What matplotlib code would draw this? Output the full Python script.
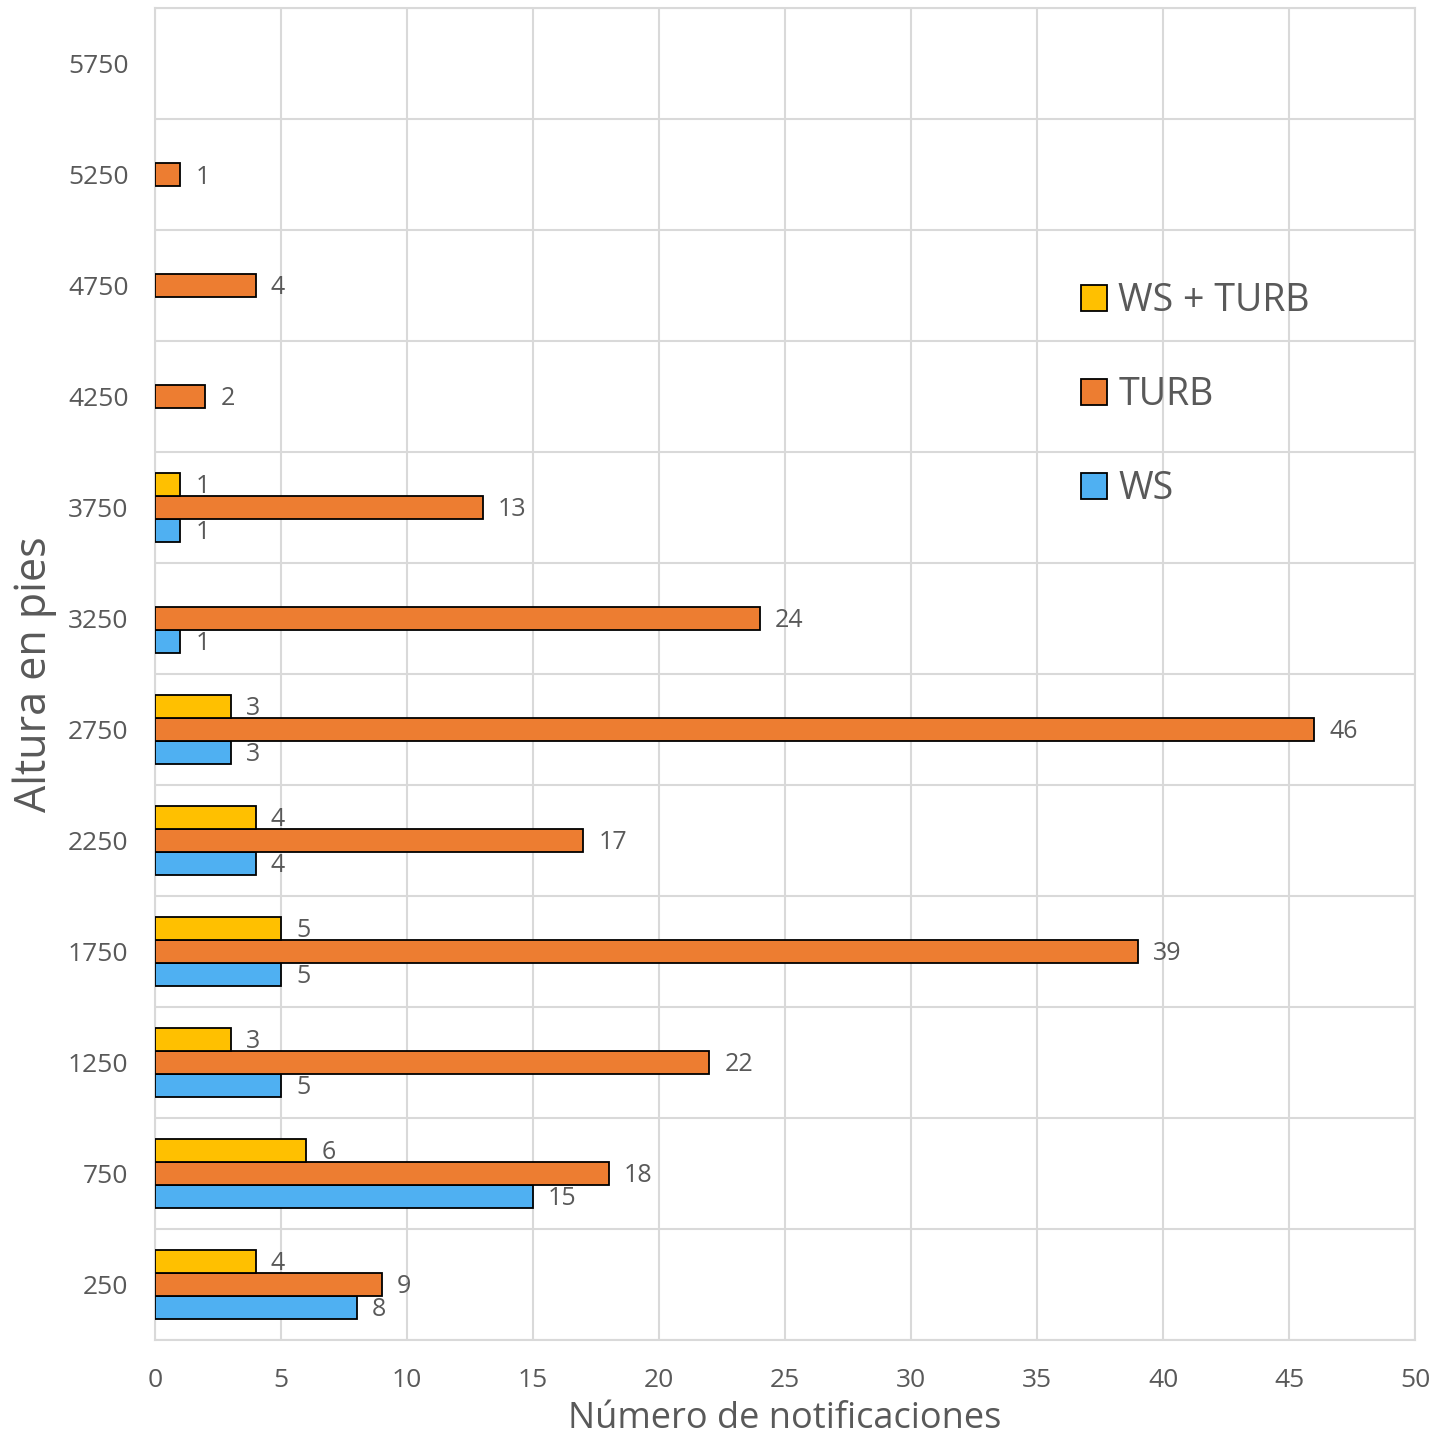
import numpy as np
import matplotlib.pyplot as plt

# Altitud (pies) y número de notificaciones por tipo
alturas = ["250", "750", "1250", "1750", "2250", "2750", "3250", "3750",
           "4250", "4750", "5250", "5750"]
ws = [8, 15, 5, 5, 4, 3, 1, 1, 0, 0, 0, 0]
turb = [9, 18, 22, 39, 17, 46, 24, 13, 2, 4, 1, 0]
ws_turb = [4, 6, 3, 5, 4, 3, 0, 1, 0, 0, 0, 0]

grey = "#595959"
grid_c = "#d9d9d9"
plt.rcParams['font.family'] = ['Open Sans', 'DejaVu Sans']

fig = plt.figure(figsize=(14.32, 14.35), dpi=100)
ax = fig.add_axes([0.1082, 0.0662, 0.88, 0.928])

y = np.arange(len(alturas))
h = 0.207
series = [(ws, "WS", "#4fb0f2", -h), (turb, "TURB", "#ed7d31", 0), (ws_turb, "WS + TURB", "#ffc000", h)]
handles = []
for vals, name, col, off in series:
    vals = np.array(vals)
    nz = vals > 0
    bars = ax.barh((y + off)[nz], vals[nz], height=h, color=col, edgecolor="black",
                   linewidth=1.3, label=name, zorder=3)
    handles.append(bars)
    for yy, v in zip((y + off)[nz], vals[nz]):
        ax.text(v + 0.6, yy - 0.02, str(v), va="center", ha="left", fontsize=18, color=grey, zorder=4)

ax.set_xlim(0, 50)
ax.set_ylim(-0.5, len(alturas) - 0.5)
ax.set_xticks(np.arange(0, 51, 5))
ax.set_yticks(y)
ax.set_yticklabels(alturas)
ax.set_yticks(np.arange(-0.5, len(alturas), 1), minor=True)
ax.tick_params(axis="both", which="both", length=0, labelsize=19, colors=grey)
ax.tick_params(axis="y", pad=19)
ax.tick_params(axis="x", pad=20)
ax.grid(axis="x", which="major", color=grid_c, linewidth=1.5, zorder=0)
ax.grid(axis="y", which="minor", color=grid_c, linewidth=1.5, zorder=0)
for s in ax.spines.values():
    s.set_color(grid_c)
    s.set_linewidth(1.5)

ax.set_xlabel("Número de notificaciones", fontsize=26, color=grey, labelpad=6)
ax.set_ylabel("Altura en pies", fontsize=31, color=grey, labelpad=8)

leg = ax.legend(handles[::-1], ["WS + TURB", "TURB", "WS"], loc="upper left",
                bbox_to_anchor=(0.708, 0.82), frameon=False, fontsize=27,
                labelspacing=1.5, handlelength=0.7, handleheight=0.7,
                handletextpad=0.3, labelcolor=grey)

fig.savefig("out.png", dpi=100)
